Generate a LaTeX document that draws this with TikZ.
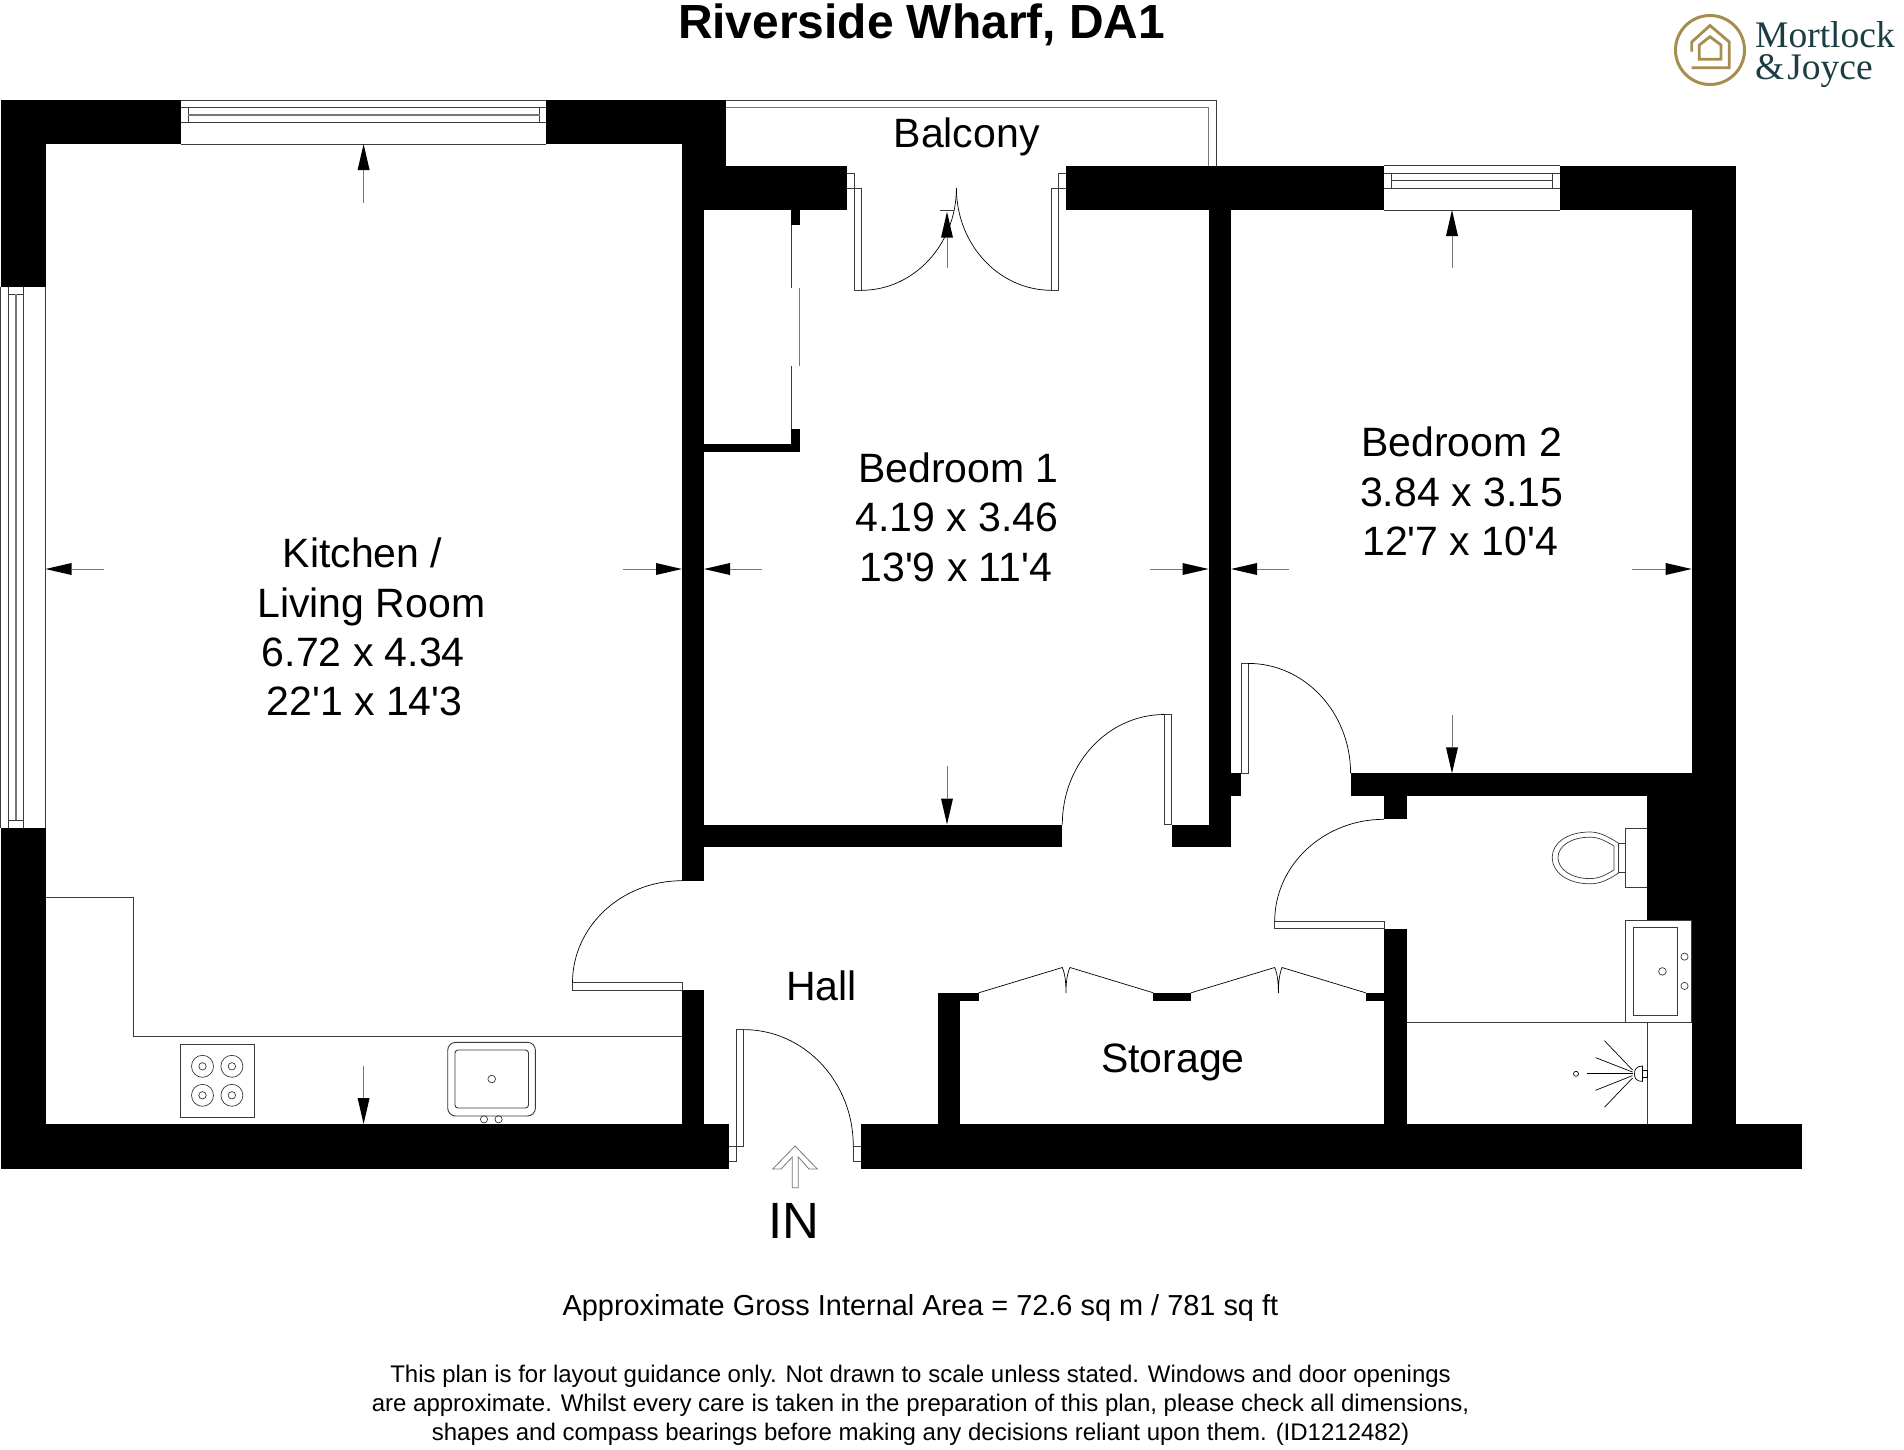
\documentclass[tikz,border=0pt]{standalone}
\usepackage{fontspec}
\newfontfamily\arialf{Liberation Sans}
\newfontfamily\logofont{Liberation Serif}
\definecolor{gold}{HTML}{A68E50}
\definecolor{teal}{HTML}{1C3D42}
\definecolor{thin}{HTML}{3A3A3A}
\definecolor{midg}{HTML}{777777}
\tikzset{
  wall/.style={fill=black,draw=none},
  fine/.style={draw=thin,line width=0.9pt,fill=none},
  arcline/.style={draw=black,line width=0.7pt},
  shaft/.style={draw=midg,line width=1pt},
  room/.style={font=\arialf\fontsize{41}{41}\selectfont,anchor=base,inner sep=0pt},
  foot/.style={font=\arialf\fontsize{24}{24}\selectfont,anchor=base,inner sep=0pt},
  logoline/.style={draw=gold,line width=2.8pt,line cap=butt,line join=miter},
  logotext/.style={font=\logofont\fontsize{37.5}{32.3}\selectfont,text=teal,anchor=north west,inner sep=0pt,align=left}
}
\newcommand{\dimarr}[4]{\begin{scope}[shift={(#1,#2)},rotate=#3]
  \fill[black] (0,0)--(26,-6)--(26,6)--cycle;
  \draw[shaft] (26,0)--(#4,0);
\end{scope}}
\newcommand{\doorarc}[4]{\draw[arcline] (#1,#2) .. controls ({#1+.5523*(#3-#1)},#2) and (#3,{#4-.5523*(#4-#2)}) .. (#3,#4);}
\begin{document}
\begin{tikzpicture}[x=1pt,y=-1pt]
\useasboundingbox (0,0) rectangle (1904,1449);
\fill[white] (0,0) rectangle (1904,1449);
% walls
\foreach \a/\b/\c/\d in {
 0.5/100/181/144, 0.5/100/45.5/286.7, 0.5/827.7/45.5/1124,
 0.5/1124/729.3/1168.5, 860.7/1124/1801.6/1168.5,
 546/100/726.4/144, 682/100/726.4/165.7, 682/165.7/847/210,
 682/210/704/880.7, 682/990/704/1124,
 1065.7/165.7/1384.3/210, 1560/165.7/1736/210, 1691.7/210/1736/1124,
 1208.6/210/1231/847, 1171.7/824.5/1231/847, 1208.6/773.4/1241.2/796,
 704/824.5/1062.3/846.7,
 791.4/210/799.6/225, 791.4/429/799.6/451.7, 704/444/799.6/451.7,
 1350.6/773.4/1736/796, 1384/796/1406.5/819.3, 1647.3/796/1736/920,
 1384/928.6/1406.5/1124,
 937.7/992.8/960/1124, 937.7/992.8/978.7/1000.5, 1153.3/992.8/1191/1000.5, 1365.7/993/1384/1001}
 {\fill[wall] (\a,\b) rectangle (\c,\d);}
% kitchen top window
\draw[fine] (181,100)--(546,100) (181,144)--(546,144) (181,107.3)--(546,107.3) (181,122.3)--(546,122.3);
\draw[fine] (188,107.3)--(188,122.3) (539.5,107.3)--(539.5,122.3);
\draw[midg,line width=1.6pt] (188,115)--(539.5,115);
% kitchen side window
\draw[fine] (0.5,286.7)--(0.5,827.7) (8,286.7)--(8,827.7) (23.6,286.7)--(23.6,827.7) (45.5,286.7)--(45.5,827.7);
\draw[fine] (8,294)--(23.6,294) (8,820)--(23.6,820);
\draw[midg,line width=1.6pt] (15.7,294)--(15.7,820);
% bedroom 2 window
\draw[fine] (1384.3,165.3)--(1560,165.3) (1384.3,210)--(1560,210) (1384.3,173.3)--(1560,173.3) (1384.3,188)--(1560,188) (1391.7,180.7)--(1552.7,180.7);
\draw[fine] (1391.7,173.3)--(1391.7,188) (1552.7,173.3)--(1552.7,188);
% balcony
\draw[fine] (726.4,100)--(1216.4,100)--(1216.4,165.7);
\draw[midg,line width=0.9pt] (726.4,107.3)--(1208.6,107.3)--(1208.6,165.7);
% balcony doors
\draw[fine] (847,173)--(854.3,173)--(854.3,290.3)--(861.4,290.3)--(861.4,188.3)--(847,188.3);
\draw[fine] (1065.7,173)--(1058.6,173)--(1058.6,290.3)--(1051.4,290.3)--(1051.4,188.3)--(1065.7,188.3);
\doorarc{861.4}{290.3}{956.4}{188}
\doorarc{1051.4}{290.3}{956.4}{188}
\draw[fine] (939.6,210)--(954,210);
% wardrobe sliding doors
\draw[fine] (791.6,225)--(791.6,287.7) (791.6,366)--(791.6,429);
\draw[midg,line width=0.9pt] (799,287.7)--(799,366);
% other doors: leaves
\draw[fine] (1164.3,824.5)--(1164.3,714.5)--(1171.7,714.5)--(1171.7,824.5)--cycle;
\doorarc{1164.3}{714.5}{1062.3}{824.5}
\draw[fine] (1241.2,773.4)--(1241.2,663.4)--(1248.2,663.4)--(1248.2,773.4)--cycle;
\doorarc{1248.2}{663.4}{1350.6}{773.4}
\draw[fine] (1274.7,921.4)--(1384,921.4)--(1384,928.6)--(1274.7,928.6)--cycle;
\doorarc{1384}{819.3}{1274.7}{921.4}
\draw[fine] (572.5,982.7)--(682,982.7)--(682,990)--(572.5,990)--cycle;
\doorarc{682}{880.7}{572.5}{982.7}
% entrance door
\draw[fine] (729.3,1161)--(736,1161)--(736,1029.6)--(743.7,1029.6)--(743.7,1146)--(729.3,1146);
\draw[fine] (860.7,1146)--(853.3,1146)--(853.3,1161)--(860.7,1161);
\doorarc{743.7}{1029.6}{853.3}{1146}
\draw[midg,line width=0.8pt] (795,1146)--(817.3,1169)--(809,1169)--(798.3,1157)--(798.3,1187.7)--(792.3,1187.7)--(792.3,1157)--(781,1169)--(772.7,1169)--cycle;
% storage bifold
\draw[arcline] (978.7,992.8)--(1062.3,967.5) .. controls (1065.5,975) and (1066,985) .. (1066,993) .. controls (1066,985) and (1066.5,975) .. (1070,967.5)--(1153.3,992.8);
\draw[arcline] (1191,992.8)--(1274.7,967.5) .. controls (1277.9,975) and (1278.4,985) .. (1278.4,993) .. controls (1278.4,985) and (1278.9,975) .. (1282,967.5)--(1365.7,992.8);
% kitchen counter, hob, sink
\draw[fine] (45.5,897.7)--(133,897.7)--(133,1036.7)--(682,1036.7);
\draw[fine] (180.4,1044.3) rectangle (254,1117.3);
\foreach \bx in {202.5,231.9}\foreach \by in {1066.3,1095.3}{
  \draw[fine,line width=0.7pt] (\bx,\by) circle[radius=11];
  \draw[fine,line width=0.7pt] (\bx,\by) circle[radius=3.7];
}
\draw[fine,rounded corners=8pt] (447.7,1042.3) rectangle (535.4,1116);
\draw[fine,rounded corners=3pt] (455,1050) rectangle (528.5,1108);
\draw[fine,line width=0.7pt] (491.7,1079) circle[radius=3.8];
\draw[fine,line width=0.7pt] (484,1119.3) circle[radius=3.6];
\draw[fine,line width=0.7pt] (498.6,1119.3) circle[radius=3.6];
% toilet
\draw[fine] (1647.3,828.3)--(1625.7,828.3)--(1625.7,887.2)--(1647.3,887.2);
\draw[fine] (1625.7,843.4)--(1618.8,843.4)--(1618.8,872.8)--(1625.7,872.8);
\draw[fine,line width=0.7pt] (1618.8,843.4) .. controls (1606,835) and (1598,832) .. (1590,832) .. controls (1567,832) and (1552.2,843) .. (1552.2,857.6) .. controls (1552.2,872) and (1567,883.8) .. (1590,883.8) .. controls (1600,883.8) and (1608,880) .. (1618.8,872.8);
\draw[fine,line width=0.7pt] (1613.9,846) .. controls (1604,840) and (1598,837.2) .. (1590,837.2) .. controls (1571,837.2) and (1558,846) .. (1558,857.6) .. controls (1558,869) and (1571,878.6) .. (1590,878.6) .. controls (1598,878.6) and (1604,876) .. (1613.9,870)--cycle;
% basin
\draw[fine] (1625.7,920) rectangle (1691.7,1022.8);
\draw[fine] (1633,927) rectangle (1677.6,1015);
\draw[fine,line width=0.7pt] (1662.4,971.4) circle[radius=3.8];
\draw[fine,line width=0.7pt] (1684.5,956.6) circle[radius=3.6];
\draw[fine,line width=0.7pt] (1684.5,985.9) circle[radius=3.6];
% shower
\draw[fine] (1406.5,1022.8)--(1625.7,1022.8);
\draw[fine] (1647.8,1022.8)--(1647.8,1124);
\draw[arcline] (1642.5,1066) .. controls (1636,1066) and (1634.5,1070) .. (1634.5,1073.8) .. controls (1634.5,1078) and (1636,1081.4) .. (1642.5,1081.4)--cycle;
\draw[arcline] (1642.5,1070.5) rectangle (1647.8,1077);
\draw[arcline] (1632.5,1073.8)--(1586.5,1073.8);
\draw[arcline] (1632.5,1072)--(1595.5,1057.6);
\draw[arcline] (1632.5,1070)--(1604.5,1040.7);
\draw[arcline] (1632.5,1075.6)--(1595.5,1090.3);
\draw[arcline] (1632.5,1078)--(1604.5,1107.2);
\draw[arcline] (1576,1073.8) circle[radius=2.5];
% dimension arrows
\dimarr{363.6}{144}{-90}{59}
\dimarr{363.6}{1124}{90}{58}
\dimarr{45.5}{569}{0}{58}
\dimarr{682}{569}{180}{59.4}
\dimarr{704}{569}{0}{58}
\dimarr{1208.6}{569}{180}{58.2}
\dimarr{1231}{569}{0}{58}
\dimarr{1691.7}{569}{180}{59.5}
\dimarr{947}{211.7}{-90}{56}
\dimarr{947}{824.5}{90}{58.5}
\dimarr{1452}{210}{-90}{58}
\dimarr{1452}{773.4}{90}{58.6}
% text
\node[font=\arialf\bfseries\fontsize{47.9}{48}\selectfont,anchor=base,inner sep=0pt] (title) at (921.6,38.5) {Riverside Wharf, DA1};
\node[room] (balc) at (966.6,147) {Balcony};
\node[room] (k1) at (362.5,567.6) {Kitchen /};
\node[room] (k2) at (371.4,617.1) {Living Room};
\node[room] (k3) at (363.3,666.6) {6.72 x 4.34};
\node[room] (k4) at (364.5,715.6) {22'1 x 14'3};
\node[room] (b11) at (958.4,482.6) {Bedroom 1};
\node[room] (b12) at (957,531.6) {4.19 x 3.46};
\node[room] (b13) at (955.8,581.3) {13'9 x 11'4};
\node[room] (b21) at (1461.6,456.9) {Bedroom 2};
\node[room] (b22) at (1461.6,506.1) {3.84 x 3.15};
\node[room] (b23) at (1460.1,555.6) {12'7 x 10'4};
\node[room] (hall) at (821.6,1000) {Hall};
\node[room] (stor) at (1172.9,1072.8) {Storage};
\node[room,font=\arialf\fontsize{51}{51}\selectfont] (in) at (793.6,1238) {IN};
\node[font=\arialf\fontsize{28.9}{29}\selectfont,anchor=base,inner sep=0pt] (area) at (920.4,1315.1) {Approximate Gross Internal Area = 72.6 sq m / 781 sq ft};
\node[foot] (d1) at (920.6,1382.6) {This plan is for layout guidance only. Not drawn to scale unless stated. Windows and door openings};
\node[foot] (d2) at (920.6,1411.7) {are approximate. Whilst every care is taken in the preparation of this plan, please check all dimensions,};
\node[foot] (d3) at (920.6,1440.8) {shapes and compass bearings before making any decisions reliant upon them. (ID1212482)};
% logo
\draw[gold,line width=3pt] (1710,50) circle[radius=34.5];
\draw[logoline] (1691.7,51.5)--(1691.7,42)--(1710,25.5)--(1729.3,42)--(1729.3,67.7)--(1691.7,67.7);
\draw[logoline] (1699.3,59.3)--(1699.3,45)--(1710,36.7)--(1721,45)--(1721,59.3)--cycle;
\node[logotext] (m) at (1755,21.1) {Mortlock\\\&\hspace{3pt}Joyce};
\end{tikzpicture}
\end{document}
